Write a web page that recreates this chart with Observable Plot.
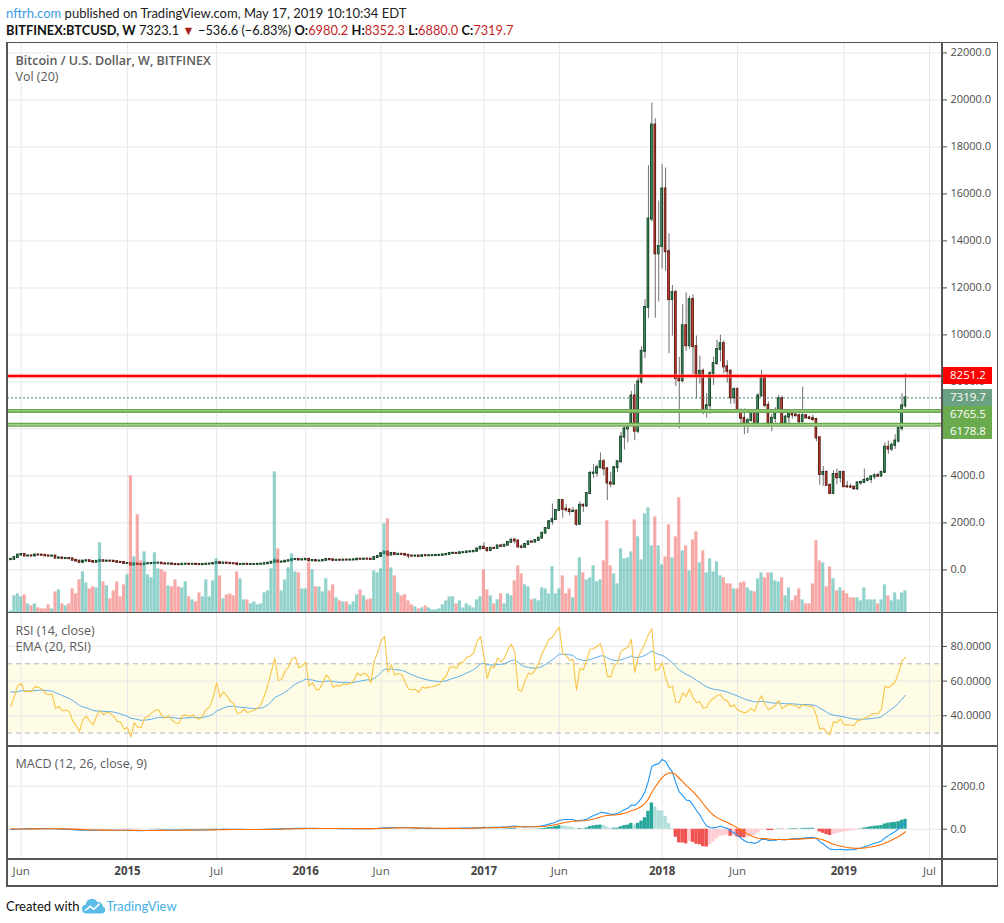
<!DOCTYPE html>
<html><head><meta charset="utf-8">
<script src="https://cdn.jsdelivr.net/npm/d3@7"></script>
<script src="https://cdn.jsdelivr.net/npm/@observablehq/plot@0.6"></script>
<style>
html,body{margin:0;padding:0;background:#fff}
#root{position:relative;width:1004px;height:923px;overflow:hidden;font-family:'Open Sans','DejaVu Sans',sans-serif}
.abs{position:absolute;white-space:nowrap}
.ln{position:absolute;background:#555}
.pt{position:absolute;white-space:nowrap;color:#5a5a5a;font-size:12.5px;line-height:18px}
.hd{position:absolute;white-space:nowrap;font-family:Lato,'Open Sans',sans-serif}
svg{position:absolute;left:0}
</style></head>
<body><div id="root"></div>
<script>
// ---------------- DATA (weekly BITFINEX:BTCUSD, weeks starting Monday 2014-05-12) ----------------
const firstWeek = "2014-05-12";
// weekly closes before the visible range (Jul 1 2013 .. May 5 2014), used only as indicator look-back
const warmupClose = [
  88, 95, 92, 96, 100, 105, 108, 118, 128, 125, 128, 126, 134, 128, 135, 150, 185, 205, 320, 420, 800, 980, 780, 870, 640, 750,
  930, 870, 830, 800, 810, 690, 620, 590, 560, 630, 620, 560, 460, 450, 420, 510, 445, 440, 435
];

const open = [
  435, 447, 525, 630, 655, 590, 595, 590, 635, 630,
  620, 595, 585, 590, 500, 510, 480, 485, 475, 410,
  375, 320, 375, 390, 355, 325, 365, 390, 365, 375,
  370, 350, 320, 315, 270, 275, 205, 255, 225, 222,
  258, 262, 275, 285, 288, 260, 248, 255, 235, 222,
  220, 240, 242, 236, 240, 230, 225, 233, 245, 250,
  270, 310, 275, 290, 280, 265, 260, 230, 232, 240,
  230, 232, 235, 238, 245, 262, 285, 325, 380, 330,
  335, 370, 390, 435, 445, 420, 430, 450, 385, 400,
  378, 380, 405, 440, 430, 405, 412, 410, 418, 416,
  420, 428, 455, 450, 458, 455, 440, 525, 575, 690,
  760, 630, 700, 650, 665, 660, 625, 590, 585, 590,
  575, 605, 600, 605, 607, 612, 618, 640, 655, 700,
  705, 700, 730, 735, 765, 770, 790, 890, 965, 905,
  820, 920, 915, 1020, 1000, 1050, 1170, 1270, 1230, 975,
  960, 1080, 1190, 1180, 1250, 1350, 1560, 1760, 2050, 2150,
  2530, 2950, 2580, 2550, 2480, 2500, 1940, 2750, 2720, 3250,
  4100, 4120, 4350, 4600, 4300, 3700, 3650, 4350, 4600, 5650,
  6000, 6150, 7400, 5900, 8000, 9300, 11170, 14930, 18930, 13450,
  13760, 16210, 13540, 11500, 11800, 8140, 8050, 10390, 9540, 11500,
  9500, 8250, 8450, 6790, 6990, 8350, 8780, 9380, 9630, 8640,
  8450, 7320, 7670, 6700, 6450, 6150, 6350, 6720, 6280, 7400,
  8200, 7000, 6260, 6450, 6710, 7280, 6240, 6500, 6700, 6590,
  6560, 6300, 6560, 6470, 6440, 6400, 5620, 4060, 4150, 3600,
  3250, 4060, 3920, 4150, 3540, 3530, 3520, 3450, 3700, 3720,
  3810, 3850, 3960, 4010, 3990, 4150, 5220, 5140, 5300, 5480,
  6020, 6980.2
];
const high = [
  452, 530, 635, 675, 660, 610, 605, 650, 640, 632,
  625, 600, 595, 595, 525, 515, 492, 490, 480, 440,
  390, 380, 410, 395, 365, 370, 460, 400, 385, 385,
  375, 355, 335, 320, 300, 280, 305, 260, 245, 265,
  270, 280, 300, 300, 290, 270, 262, 258, 238, 237,
  245, 246, 245, 243, 242, 232, 236, 252, 252, 275,
  315, 312, 295, 298, 285, 272, 262, 235, 245, 242,
  236, 238, 240, 248, 265, 290, 335, 500, 390, 340,
  375, 395, 465, 470, 448, 440, 465, 455, 410, 405,
  395, 410, 445, 445, 440, 420, 418, 420, 424, 425,
  432, 462, 468, 462, 462, 458, 535, 590, 700, 780,
  770, 705, 705, 675, 675, 665, 630, 600, 595, 592,
  610, 625, 610, 612, 615, 622, 645, 660, 720, 750,
  715, 745, 745, 770, 775, 795, 900, 1000, 1150, 910,
  935, 925, 1030, 1065, 1060, 1190, 1290, 1330, 1250, 1060,
  1100, 1210, 1220, 1260, 1360, 1600, 1800, 2100, 2800, 2550,
  3000, 2980, 2780, 2600, 2650, 2550, 2900, 2800, 3300, 4200,
  4480, 4450, 4980, 4700, 4350, 4150, 4400, 4650, 5850, 6200,
  6200, 7600, 7900, 8200, 9500, 11500, 17200, 19870, 19200, 15700,
  17250, 17100, 14300, 12100, 11900, 9050, 11280, 11790, 11650, 11700,
  9950, 9100, 8550, 7500, 8450, 9050, 9770, 9990, 9750, 8900,
  8520, 7750, 7750, 6850, 6850, 6450, 6800, 6780, 7500, 8490,
  8250, 7150, 6620, 6900, 7420, 7400, 6580, 6830, 6800, 6700,
  6640, 7770, 6620, 6540, 6580, 6450, 5650, 4400, 4200, 3650,
  4220, 4290, 4180, 4150, 3760, 3650, 3560, 3740, 3780, 4290,
  3920, 4000, 4080, 4110, 4200, 5400, 5480, 5400, 5750, 6050,
  7500, 8352.3
];
const low = [
  432, 445, 520, 610, 565, 565, 565, 585, 610, 612,
  590, 575, 575, 480, 460, 475, 470, 465, 400, 370,
  290, 300, 370, 345, 320, 320, 360, 345, 360, 360,
  345, 305, 310, 265, 265, 160, 200, 215, 210, 215,
  230, 230, 265, 280, 255, 235, 240, 230, 215, 215,
  218, 232, 232, 233, 225, 218, 223, 230, 240, 248,
  265, 265, 270, 275, 258, 255, 165, 200, 225, 228,
  225, 228, 232, 235, 243, 260, 282, 320, 300, 315,
  330, 355, 385, 430, 405, 412, 425, 360, 355, 370,
  365, 375, 400, 405, 390, 400, 405, 405, 410, 414,
  418, 426, 440, 440, 445, 435, 438, 520, 570, 680,
  550, 615, 630, 645, 650, 615, 480, 575, 570, 570,
  572, 595, 598, 600, 603, 608, 615, 630, 650, 680,
  690, 695, 725, 730, 755, 765, 785, 860, 880, 750,
  810, 885, 910, 960, 980, 1045, 1150, 1100, 950, 890,
  940, 1070, 1150, 1175, 1245, 1340, 1550, 1750, 1900, 2100,
  2500, 2200, 2450, 2300, 2450, 1850, 1900, 2450, 2650, 3200,
  3900, 3950, 4300, 4000, 2950, 3500, 3600, 4150, 4550, 5100,
  5400, 6100, 5500, 5800, 7900, 9000, 10700, 14800, 10710, 11400,
  12800, 12700, 9200, 9950, 7800, 6000, 7950, 9300, 9400, 8320,
  7270, 7900, 6600, 6450, 6620, 7850, 8700, 8850, 8350, 7950,
  7050, 7060, 6650, 6130, 5750, 5800, 6300, 6080, 6270, 7350,
  6900, 6120, 5880, 6250, 6650, 6120, 6180, 6220, 6420, 6500,
  6120, 6280, 6420, 6380, 6310, 5450, 3600, 3550, 3550, 3200,
  3230, 3620, 3700, 3500, 3480, 3460, 3390, 3380, 3590, 3700,
  3740, 3680, 3840, 3940, 3940, 4120, 4920, 5040, 5130, 5400,
  5900, 6880
];
const close = [
  447, 525, 630, 655, 590, 595, 590, 635, 630, 620,
  595, 585, 590, 500, 510, 480, 485, 475, 410, 375,
  320, 375, 390, 355, 325, 365, 390, 365, 375, 370,
  350, 320, 315, 270, 275, 205, 255, 225, 222, 258,
  262, 275, 285, 288, 260, 248, 255, 235, 222, 220,
  240, 242, 236, 240, 230, 225, 233, 245, 250, 270,
  310, 275, 290, 280, 265, 260, 230, 232, 240, 230,
  232, 235, 238, 245, 262, 285, 325, 380, 330, 335,
  370, 390, 435, 445, 420, 430, 450, 385, 400, 378,
  380, 405, 440, 430, 405, 412, 410, 418, 416, 420,
  428, 455, 450, 458, 455, 440, 525, 575, 690, 760,
  630, 700, 650, 665, 660, 625, 590, 585, 590, 575,
  605, 600, 605, 607, 612, 618, 640, 655, 700, 705,
  700, 730, 735, 765, 770, 790, 890, 965, 905, 820,
  920, 915, 1020, 1000, 1050, 1170, 1270, 1230, 975, 960,
  1080, 1190, 1180, 1250, 1350, 1560, 1760, 2050, 2150, 2530,
  2950, 2580, 2550, 2480, 2500, 1940, 2750, 2720, 3250, 4100,
  4120, 4350, 4600, 4300, 3700, 3650, 4350, 4600, 5650, 6000,
  6150, 7400, 5900, 8000, 9300, 11170, 14930, 18930, 13450, 13760,
  16210, 13540, 11500, 11800, 8140, 8050, 10390, 9540, 11500, 9500,
  8250, 8450, 6790, 6990, 8350, 8780, 9380, 9630, 8640, 8450,
  7320, 7670, 6700, 6450, 6150, 6350, 6720, 6280, 7400, 8200,
  7000, 6260, 6450, 6710, 7280, 6240, 6500, 6700, 6590, 6560,
  6300, 6560, 6470, 6440, 6400, 5620, 4060, 4150, 3600, 3250,
  4060, 3920, 4150, 3540, 3530, 3520, 3450, 3700, 3720, 3810,
  3850, 3960, 4010, 3990, 4150, 5220, 5140, 5300, 5480, 6020,
  6980.2, 7319.7
];
// weekly volume, relative units
const volume = [
  2, 17, 19, 16, 18, 9, 7, 9, 5, 4,
  4, 8, 4, 21, 23, 9, 7, 9, 24, 19,
  33, 41, 30, 24, 26, 25, 70, 31, 27, 14,
  22, 31, 16, 28, 38, 137, 56, 98, 52, 61,
  38, 35, 60, 44, 43, 41, 27, 26, 33, 26,
  25, 31, 16, 13, 11, 20, 16, 33, 16, 32,
  54, 37, 14, 18, 19, 17, 41, 34, 13, 13,
  9, 11, 8, 9, 20, 22, 44, 141, 64, 22,
  33, 45, 59, 41, 40, 24, 24, 50, 43, 26,
  26, 21, 34, 22, 28, 15, 12, 11, 11, 8,
  11, 18, 23, 17, 13, 14, 42, 40, 44, 89,
  94, 45, 37, 20, 17, 18, 12, 8, 6, 4,
  5, 7, 5, 3, 3, 4, 8, 12, 16, 16,
  9, 12, 5, 9, 7, 5, 13, 16, 43, 23,
  17, 9, 13, 19, 9, 19, 17, 32, 47, 39,
  28, 26, 13, 14, 12, 25, 24, 19, 46, 19,
  24, 37, 19, 24, 15, 37, 55, 40, 33, 35,
  47, 31, 33, 52, 92, 47, 39, 29, 64, 54,
  55, 61, 93, 76, 53, 99, 105, 67, 96, 67,
  48, 56, 88, 55, 76, 115, 62, 67, 42, 73,
  81, 50, 62, 40, 54, 41, 51, 37, 35, 29,
  29, 24, 24, 30, 31, 25, 22, 21, 34, 40,
  35, 40, 40, 32, 31, 35, 17, 25, 12, 17,
  24, 13, 9, 9, 29, 72, 52, 50, 26, 46,
  34, 22, 25, 22, 19, 15, 15, 15, 12, 25,
  13, 13, 13, 9, 13, 28, 17, 12, 20, 13,
  20, 22
];
const volumeMax = 570; // volume value at the top of the price pane

const tickDates = ["2014-06-02","2015-01-05","2015-07-06","2016-01-04","2016-06-06","2017-01-02","2017-06-05","2018-01-01","2018-06-04","2019-01-07","2019-07-01"];
const tickLabels = ["Jun","2015","Jul","2016","Jun","2017","Jun","2018","Jun","2019","Jul"];
const priceTicks = [0,2000,4000,6000,8000,10000,12000,14000,16000,18000,20000,22000];
const rsiTicks = [40, 60, 80];
const rsiBands = [30, 70];
const macdTicks = [0, 2000];
const resistanceLevel = 8251.2;
const supportLevels = [6765.5, 6178.8];

// ---------------- LAYOUT ----------------
const W = 1004, ML = 7, MR = 62;
const TOP = 42.3, MAIN_B = 612.7, RSI_B = 746, MACD_B = 859, AXIS_B = 886;
const WEEK = 7 * 864e5;
const START = Date.parse(firstWeek + "T00:00:00Z");
const xDomain = [new Date(START - WEEK), new Date(START + 271.8 * WEEK)];
const FONT = "'Open Sans','DejaVu Sans',sans-serif";
const AXC = "#4b4b4b", GRID = "#e7e7e7";
const UP_FILL = "#3f9a62", UP_EDGE = "#123f22", DN_FILL = "#d9412f", DN_EDGE = "#561610";

const dates = close.map((_, i) => new Date(START + i * WEEK));
const candles = close.map((c, i) => ({date: dates[i], open: open[i], high: high[i], low: low[i], close: c, volume: volume[i], up: c >= open[i]}));
const ticks = tickDates.map((d, i) => ({date: new Date(d + "T00:00:00Z"), label: tickLabels[i], year: /^\d{4}$/.test(tickLabels[i])}));
const tickDateObjs = ticks.map(d => d.date);

// ---------------- INDICATORS (RSI 14, EMA 20 of RSI, MACD 12/26/9) ----------------
const allClose = warmupClose.concat(close);
const N = allClose.length;
const rsiAll = new Array(N).fill(null);
{
  let gs = 0, ls = 0, ag = 0, al = 0;
  for (let i = 1; i < N; i++) {
    const ch = allClose[i] - allClose[i - 1];
    const g = Math.max(ch, 0), l = Math.max(-ch, 0);
    if (i <= 14) { gs += g; ls += l; if (i === 14) { ag = gs / 14; al = ls / 14; } }
    else { ag = (ag * 13 + g) / 14; al = (al * 13 + l) / 14; }
    if (i >= 14) rsiAll[i] = al === 0 ? 100 : 100 - 100 / (1 + ag / al);
  }
}
function ema(arr, len) {
  const a = 2 / (len + 1); let prev = null;
  return arr.map(v => { if (v == null) return null; prev = prev == null ? v : a * v + (1 - a) * prev; return prev; });
}
const rsiEmaAll = ema(rsiAll, 20);
const e12 = ema(allClose, 12), e26 = ema(allClose, 26);
const macdAll = e12.map((v, i) => v - e26[i]);
const sigAll = ema(macdAll, 9);
const histAll = macdAll.map((v, i) => v - sigAll[i]);
const off = warmupClose.length;
const rows = close.map((c, i) => {
  const k = i + off, h = histAll[k], hp = histAll[k - 1];
  const col = h >= 0 ? (h > hp ? "#26a69a" : "#b2dfdb") : (h < hp ? "#ef5350" : "#ffcdd2");
  return {date: dates[i], rsi: rsiAll[k], rsiEma: rsiEmaAll[k], macd: macdAll[k], signal: sigAll[k], hist: h, histColor: col};
});

// ---------------- DRAW ----------------
const root = document.getElementById("root");
const baseStyle = {fontFamily: FONT, fontSize: "11px", color: AXC, background: "transparent", overflow: "visible"};
const BODY = 0.25 * WEEK, VOLW = 0.46 * WEEK, HISTW = 0.5 * WEEK;
const place = (svg, top) => { svg.style.position = "absolute"; svg.style.left = "0px"; svg.style.top = top + "px"; root.appendChild(svg); return svg; };

const main = Plot.plot({
  width: W, height: MAIN_B - TOP, marginLeft: ML, marginRight: MR, marginTop: 0, marginBottom: 0,
  x: {type: "utc", domain: xDomain, axis: null},
  y: {domain: [-1830, 22443], axis: null},
  style: baseStyle,
  marks: [
    Plot.gridY(priceTicks, {stroke: GRID, strokeOpacity: 1}),
    Plot.gridX(tickDateObjs, {stroke: GRID, strokeOpacity: 1}),
    Plot.ruleX(candles, {x: "date", y1: "low", y2: "high", stroke: "#6e6e6e", strokeWidth: 1}),
    Plot.rect(candles, {x1: d => new Date(+d.date - BODY), x2: d => new Date(+d.date + BODY), y1: "open", y2: "close",
      fill: d => d.up ? UP_FILL : DN_FILL, stroke: d => d.up ? UP_EDGE : DN_EDGE, strokeWidth: 0.9, insetTop: -0.5, insetBottom: -0.5}),
    Plot.ruleY([resistanceLevel], {stroke: "#ff7070", strokeOpacity: 0.55, strokeWidth: 4.5}),
    Plot.ruleY([resistanceLevel], {stroke: "#ff0000", strokeWidth: 2}),
    Plot.ruleY(supportLevels, {stroke: "#6aa84f", strokeWidth: 4}),
    Plot.ruleY(supportLevels, {stroke: "#a4cf8c", strokeWidth: 1.4}),
    Plot.ruleY([close[close.length - 1]], {stroke: "#4e7d62", strokeDasharray: "2,2", strokeWidth: 1}),
    Plot.axisY(priceTicks, {anchor: "right", tickFormat: d3.format(".1f"), tickSize: 4, tickPadding: 4, label: null})
  ]
});
place(main, TOP);

const vol = Plot.plot({
  width: W, height: MAIN_B - TOP, marginLeft: ML, marginRight: MR, marginTop: 0, marginBottom: 0,
  x: {type: "utc", domain: xDomain, axis: null},
  y: {domain: [0, volumeMax], axis: null},
  style: baseStyle,
  marks: [
    Plot.rect(candles, {x1: d => new Date(+d.date - VOLW), x2: d => new Date(+d.date + VOLW), y1: 0, y2: "volume",
      fill: d => d.up ? "#26a69a" : "#ef5350", fillOpacity: 0.5})
  ]
});
vol.style.pointerEvents = "none";
place(vol, TOP);

const rsiPlot = Plot.plot({
  width: W, height: RSI_B - MAIN_B, marginLeft: ML, marginRight: MR, marginTop: 0, marginBottom: 0,
  x: {type: "utc", domain: xDomain, axis: null},
  y: {domain: [22.1, 99], axis: null},
  style: baseStyle,
  marks: [
    Plot.rect([{x1: xDomain[0], x2: xDomain[1], y1: rsiBands[0], y2: rsiBands[1]}], {x1: "x1", x2: "x2", y1: "y1", y2: "y2", fill: "#fffce6"}),
    Plot.gridY(rsiTicks, {stroke: GRID, strokeOpacity: 1}),
    Plot.gridX(tickDateObjs, {stroke: GRID, strokeOpacity: 1}),
    Plot.ruleY(rsiBands, {stroke: "#b5b5b5", strokeDasharray: "5,4", strokeWidth: 1}),
    Plot.line(rows, {x: "date", y: "rsiEma", stroke: "#5aaee8", strokeWidth: 1}),
    Plot.line(rows, {x: "date", y: "rsi", stroke: "#f8c444", strokeWidth: 1.1}),
    Plot.axisY(rsiTicks, {anchor: "right", tickFormat: d3.format(".4f"), tickSize: 4, tickPadding: 4, label: null})
  ]
});
place(rsiPlot, MAIN_B);

const macdPlot = Plot.plot({
  width: W, height: AXIS_B - RSI_B, marginLeft: ML, marginRight: MR, marginTop: 0, marginBottom: AXIS_B - MACD_B,
  x: {type: "utc", domain: xDomain, axis: null},
  y: {domain: [-1409, 3847], axis: null},
  style: baseStyle,
  marks: [
    Plot.gridY(macdTicks, {stroke: GRID, strokeOpacity: 1}),
    Plot.gridX(tickDateObjs, {stroke: GRID, strokeOpacity: 1}),
    Plot.rect(rows, {x1: d => new Date(+d.date - HISTW), x2: d => new Date(+d.date + HISTW), y1: 0, y2: "hist", fill: "histColor"}),
    Plot.line(rows, {x: "date", y: "macd", stroke: "#2196f3", strokeWidth: 1.1}),
    Plot.line(rows, {x: "date", y: "signal", stroke: "#ff6d00", strokeWidth: 1.1}),
    Plot.axisY(macdTicks, {anchor: "right", tickFormat: d3.format(".1f"), tickSize: 4, tickPadding: 4, label: null}),
    Plot.text(ticks.filter(d => !d.year), {x: "date", text: "label", frameAnchor: "bottom", dy: 15, fill: "#555", fontSize: 11.5}),
    Plot.text(ticks.filter(d => d.year), {x: "date", text: "label", frameAnchor: "bottom", dy: 15, fill: "#444", fontSize: 11.5, fontWeight: "bold"})
  ]
});
place(macdPlot, RSI_B);

// price labels on the right scale, positioned with the plot's own y scale
const ys = main.scale("y");
const boxes = [
  {v: resistanceLevel, color: "#ff0000"},
  {v: close[close.length - 1], color: "#6aa182"},
  {v: supportLevels[0], color: "#6aab4f"},
  {v: supportLevels[1], color: "#6aab4f"}
].sort((a, b) => b.v - a.v);
const BH = 16.7; let prevBottom = -Infinity;
for (const b of boxes) {
  let t = TOP + ys.apply(b.v) - BH / 2;
  if (t < prevBottom) t = prevBottom;
  prevBottom = t + BH;
  const el = document.createElement("div");
  el.className = "abs";
  Object.assign(el.style, {left: "942px", top: t + "px", width: "50px", height: BH + "px", background: b.color, color: "#fff",
    fontSize: "11.5px", lineHeight: BH + "px", paddingLeft: "8px", boxSizing: "border-box"});
  el.textContent = d3.format(".1f")(b.v);
  root.appendChild(el);
}

// frame lines
const line = (l, t, w, h) => { const e = document.createElement("div"); e.className = "ln"; Object.assign(e.style, {left: l + "px", top: t + "px", width: w + "px", height: h + "px"}); root.appendChild(e); };
line(6, TOP - 0.75, 992, 1.5);
line(6, MAIN_B - 0.75, 992, 1.5);
line(6, RSI_B - 0.75, 992, 1.5);
line(6, MACD_B - 0.75, 992, 1.5);
line(6, AXIS_B - 0.75, 992, 1.5);
line(6, TOP - 0.75, 1.5, AXIS_B - TOP + 1.5);
line(941.3, TOP - 0.75, 1.5, AXIS_B - TOP + 1.5);
line(996.5, TOP - 0.75, 1.5, AXIS_B - TOP + 1.5);

// text
const add = (html, css, cls = "abs") => { const e = document.createElement("div"); e.className = cls; e.innerHTML = html; Object.assign(e.style, css); root.appendChild(e); return e; };
const last = candles[candles.length - 1];
const red = s => `<span style="color:#c41f1f">${s}</span>`;
add(`<span style="color:#3d9be2">nftrh.com</span> published on TradingView.com, May 17, 2019 10:10:34 EDT`,
  {left: "6px", top: "3px", fontSize: "13px", color: "#222", lineHeight: "20px"}, "hd");
add(`<b>BITFINEX:BTCUSD, W</b> 7323.1 <span style="color:#a81c1c;font-size:12.5px">&#9660;</span> −536.6 (−6.83%) <b>O:</b>${red(d3.format(".1f")(last.open))} <b>H:</b>${red(d3.format(".1f")(last.high))} <b>L:</b>${red(d3.format(".1f")(last.low))} <b>C:</b>${red(d3.format(".1f")(last.close))}`,
  {left: "6px", top: "20px", fontSize: "12.8px", color: "#111", lineHeight: "20px"}, "hd");
add("Bitcoin / U.S. Dollar, W, BITFINEX", {left: "15.5px", top: "52px", fontWeight: "600"}, "pt");
add("Vol (20)", {left: "15.5px", top: "68px"}, "pt");
add("RSI (14, close)", {left: "15.5px", top: "621.5px"}, "pt");
add("EMA (20, RSI)", {left: "15.5px", top: "638px"}, "pt");
add("MACD (12, 26, close, 9)", {left: "15.5px", top: "755px"}, "pt");
add(`<span style="color:#111">Created with</span><svg width="24" height="16" viewBox="0 0 24 16" style="position:relative;top:3px;margin:0 0 0 3px"><path d="M4.5 15.5a4.5 4.5 0 0 1-.6-8.96A6 6 0 0 1 15.3 4.2a4.6 4.6 0 0 1 5.6 4.3A3.6 3.6 0 0 1 20 15.5z" fill="#5dbbe8"/><path d="M3 12.5l5.2-4.2 3.6 3 5.8-5.6" stroke="#fff" stroke-width="1.6" fill="none"/></svg><span style="color:#46b0e4">TradingView</span>`,
  {left: "6px", top: "895px", fontSize: "13px", lineHeight: "20px"}, "hd");
</script>
</body></html>
